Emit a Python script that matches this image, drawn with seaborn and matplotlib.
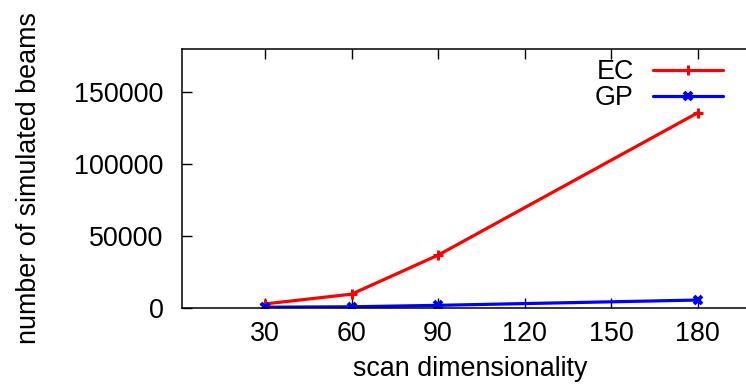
import matplotlib
matplotlib.use("Agg")
import matplotlib.pyplot as plt
import seaborn as sns

# Scan dimensionality vs. number of simulated beams
dims = [30, 60, 90, 180]
ec_beams = [2500, 9300, 36500, 135700]
gp_beams = [200, 500, 1500, 5200]
x_ticks = [30, 60, 90, 120, 150, 180]
y_ticks = [0, 50000, 100000, 150000]

sns.set_theme(style="white")
plt.rcParams["font.family"] = ["Liberation Sans", "DejaVu Sans"]
plt.rcParams["text.color"] = "black"
plt.rcParams["axes.labelcolor"] = "black"

FS = 19.4
W, H = 746, 385
fig = plt.figure(figsize=(W / 100, H / 100), dpi=100)
left, right, top, bottom = 181.7, 759.0, 49.3, 307.5
ax = fig.add_axes([left / W, 1 - bottom / H, (right - left) / W, (bottom - top) / H])

sns.lineplot(x=dims, y=ec_beams, ax=ax, color="#ff0000", lw=2.3, marker="+",
             markersize=7, markeredgewidth=2.2, markeredgecolor="#ff0000", label="EC")
sns.lineplot(x=dims, y=gp_beams, ax=ax, color="#0000ff", lw=2.3, marker="x",
             markersize=6, markeredgewidth=2.8, markeredgecolor="#0000ff", label="GP")

ax.set_xlim(1.1, 201.3)
ax.set_ylim(0, 180000)
ax.set_xticks(x_ticks)
ax.set_yticks(y_ticks)
ax.tick_params(axis="both", direction="in", length=7, width=1, color="black",
               labelsize=FS, labelcolor="black", top=True, right=True,
               bottom=True, left=True)
ax.tick_params(axis="x", pad=10)
ax.tick_params(axis="y", pad=13)
for s in ax.spines.values():
    s.set_color("black")
    s.set_linewidth(1.1)

ax.set_xlabel("scan dimensionality", fontsize=FS, color="black", labelpad=6.5)
ax.set_ylabel("number of simulated beams", fontsize=FS, color="black", labelpad=23)

leg = ax.legend(loc="upper right", bbox_to_anchor=(722.7 / W, 1 - 59 / H),
                bbox_transform=fig.transFigure, frameon=False, markerfirst=False,
                fontsize=FS, handlelength=2.6, handletextpad=0.7,
                labelspacing=0.0, borderpad=0, borderaxespad=0)
for t in leg.get_texts():
    t.set_ha("right")
    t.set_color("black")

fig.savefig("out.png", dpi=100)
